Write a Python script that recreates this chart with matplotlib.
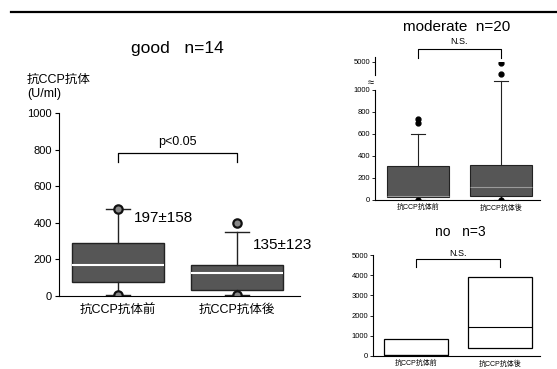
import matplotlib
matplotlib.use('Agg')
import matplotlib.pyplot as plt
import numpy as np

plt.rcParams['font.family'] = ['Liberation Sans', 'Noto Sans CJK JP', 'DejaVu Sans']

# ---- data ----
groups = ['抗CCP抗体前', '抗CCP抗体後']

# good n=14
good_q1 = [75, 35]
good_med = [170, 125]
good_q3 = [290, 170]
good_lo = [5, 5]
good_hi = [475, 350]
good_fliers = [[475, 5], [400, 5]]
good_text = ['197±158', '135±123']
good_text_y = [425, 280]

# moderate n=20 (axis broken above 1000)
mod_q1 = [30, 35]
mod_med = [40, 120]
mod_q3 = [305, 320]
mod_lo = [0, 0]
mod_hi = [600, 2300]
mod_fliers = [[700, 740, 0], [3300, 4800, 0]]

# no n=3
no_q1 = [50, 400]
no_med = [70, 1430]
no_q3 = [820, 3900]


def stats(q1, med, q3, lo, hi, fl):
    out = []
    for i in range(len(q1)):
        out.append(dict(q1=q1[i], med=med[i], q3=q3[i], whislo=lo[i],
                        whishi=hi[i], fliers=fl[i], label=groups[i]))
    return out


W, H = 557, 369
fig = plt.figure(figsize=(W / 100, H / 100), dpi=100)


def axes_px(x0, x1, ytop, ybot):
    return fig.add_axes([x0 / W, 1 - ybot / H, (x1 - x0) / W, (ybot - ytop) / H])


# top rule
fig.add_artist(plt.Line2D([0.02, 1.0], [1 - 12 / H, 1 - 12 / H], color='black', lw=1.6))

# ---------------- good ----------------
ax = axes_px(59, 300, 113, 296)
ax.bxp(stats(good_q1, good_med, good_q3, good_lo, good_hi, good_fliers),
       positions=[1, 2], widths=0.77, patch_artist=True, capwidths=0.2,
       boxprops=dict(facecolor='#565656', edgecolor='#222222', lw=1),
       medianprops=dict(color='white', lw=1.5),
       whiskerprops=dict(color='#222222', lw=1), capprops=dict(color='#222222', lw=1),
       flierprops=dict(marker='o', markersize=6, markerfacecolor='#888888',
                       markeredgecolor='#111111', markeredgewidth=1.6))
ax.set_xlim(0.504, 2.529)
ax.set_ylim(0, 1000)
ax.set_yticks([0, 200, 400, 600, 800, 1000])
ax.set_xticks([1, 2])
ax.set_xticklabels(groups, fontsize=9)
ax.tick_params(axis='x', length=0, pad=6)
ax.tick_params(axis='y', labelsize=8, length=3, width=0.8, pad=2)
for s in ['top', 'right']:
    ax.spines[s].set_visible(False)
ax.spines['left'].set_linewidth(0.8)
ax.spines['bottom'].set_linewidth(0.8)
ax.plot([1, 1, 2, 2], [730, 780, 780, 730], color='black', lw=0.9)
ax.text(1.5, 810, 'p<0.05', ha='center', va='bottom', fontsize=9)
for i, t in enumerate(good_text):
    ax.text(1.13 + i, good_text_y[i], t, ha='left', va='center', fontsize=11)
fig.text(177 / W, 1 - 48 / H, 'good   n=14', ha='center', va='center', fontsize=12.5)
fig.text(27 / W, 1 - 87 / H, '抗CCP抗体\n(U/ml)', ha='left', va='center', fontsize=9,
         linespacing=1.15)

# ---------------- moderate ----------------
f = 0.0635


def fwd(y):
    y = np.asarray(y, dtype=float)
    return np.where(y <= 1000, y, 1000 + (y - 1000) * f)


def inv(y):
    y = np.asarray(y, dtype=float)
    return np.where(y <= 1000, y, 1000 + (y - 1000) / f)


ax2 = axes_px(375, 540, 62, 200)
ax2.set_yscale('function', functions=(fwd, inv))
ax2.bxp(stats(mod_q1, mod_med, mod_q3, mod_lo, mod_hi, mod_fliers),
        positions=[1, 2], widths=0.75, patch_artist=True, capwidths=0.18,
        boxprops=dict(facecolor='#565656', edgecolor='#222222', lw=0.8),
        medianprops=dict(color='#9a9a9a', lw=0.8),
        whiskerprops=dict(color='#222222', lw=0.8), capprops=dict(color='#222222', lw=0.8),
        flierprops=dict(marker='o', markersize=3.5, markerfacecolor='black',
                        markeredgecolor='black'))
ax2.set_xlim(0.482, 2.47)
ax2.set_ylim(0, 5000)
ax2.set_yticks([0, 200, 400, 600, 800, 1000, 5000])
ax2.set_xticks([1, 2])
ax2.set_xticklabels(groups, fontsize=5)
ax2.tick_params(axis='x', length=0, pad=3)
ax2.tick_params(axis='y', labelsize=5.5, length=2, width=0.6, pad=1.5)
for s in ['top', 'right', 'left']:
    ax2.spines[s].set_visible(False)
ax2.spines['bottom'].set_linewidth(0.8)
yt = ax2.get_yaxis_transform()
ax2.plot([0, 0], [0, 1000], color='black', lw=0.8, transform=yt, clip_on=False)
ax2.plot([0, 0], [3140, 5700], color='black', lw=0.8, transform=yt, clip_on=False)
ax2.text(-0.025, 2000, '≈', transform=yt, ha='center', va='center', fontsize=8)
ax2.plot([1, 1, 2, 2], [5570, 6860, 6860, 5570], color='black', lw=0.8, clip_on=False)
ax2.text(1.5, 7250, 'N.S.', ha='center', va='bottom', fontsize=6.5)
fig.text(457 / W, 1 - 27 / H, 'moderate  n=20', ha='center', va='center', fontsize=11)

# ---------------- no ----------------
ax3 = axes_px(373, 540, 255, 356)
ax3.bxp(stats(no_q1, no_med, no_q3, no_q1, no_q3, [[], []]),
        positions=[1, 2], widths=0.76, patch_artist=True, showcaps=False,
        boxprops=dict(facecolor='white', edgecolor='black', lw=0.9),
        medianprops=dict(color='black', lw=0.8),
        whiskerprops=dict(color='black', lw=0.8))
ax3.set_xlim(0.488, 2.476)
ax3.set_ylim(0, 5000)
ax3.set_yticks([0, 1000, 2000, 3000, 4000, 5000])
ax3.set_xticks([1, 2])
ax3.set_xticklabels(groups, fontsize=5)
ax3.tick_params(axis='x', length=0, pad=3)
ax3.tick_params(axis='y', labelsize=5.5, length=2, width=0.6, pad=1.5)
for s in ['top', 'right']:
    ax3.spines[s].set_visible(False)
ax3.spines['left'].set_linewidth(0.8)
ax3.spines['bottom'].set_linewidth(0.8)
ax3.plot([1, 1, 2, 2], [4400, 4800, 4800, 4400], color='black', lw=0.8, clip_on=False)
ax3.text(1.5, 4850, 'N.S.', ha='center', va='bottom', fontsize=6.5)
fig.text(460 / W, 1 - 232 / H, 'no   n=3', ha='center', va='center', fontsize=10)

fig.savefig('out.png', dpi=100)
